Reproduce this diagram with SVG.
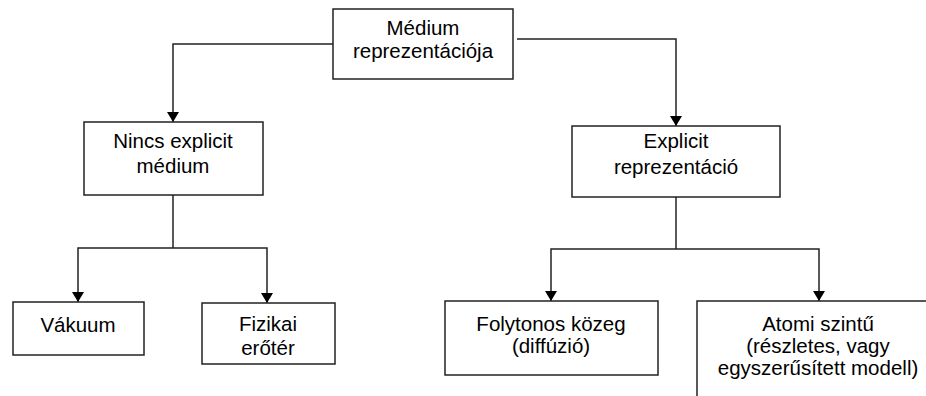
<svg xmlns="http://www.w3.org/2000/svg" width="926" height="396" viewBox="0 0 926 396">
  <style>
    .box { fill: #ffffff; stroke: #222222; stroke-width: 1.5; }
    .lbl { font-family: "Liberation Sans", Arial, sans-serif; font-size: 20.5px; fill: #000000; text-anchor: middle; }
    .wire { fill: none; stroke: #222222; stroke-width: 1.5; }
  </style>
  <defs>
    <marker id="arrow" viewBox="0 0 10 12" refX="10" refY="6" markerWidth="10" markerHeight="12" markerUnits="userSpaceOnUse" orient="auto">
      <path d="M0,0 L10,6 L0,12 Z" fill="#000000"/>
    </marker>
  </defs>
  <rect width="926" height="396" fill="#ffffff"/>

  <g id="connectors">
    <polyline class="wire" points="333,44 173,44 173,122" marker-end="url(#arrow)"/>
    <polyline class="wire" points="517,39 676,39 676,126" marker-end="url(#arrow)"/>
    <polyline class="wire" points="173,195 173,248"/>
    <polyline class="wire" points="173,248 78,248 78,302" marker-end="url(#arrow)"/>
    <polyline class="wire" points="173,248 267,248 267,303" marker-end="url(#arrow)"/>
    <polyline class="wire" points="676,197 676,249"/>
    <polyline class="wire" points="676,249 551,249 551,301" marker-end="url(#arrow)"/>
    <polyline class="wire" points="676,249 819,249 819,301" marker-end="url(#arrow)"/>
  </g>

  <g id="medium">
    <rect class="box" x="333" y="9" width="180" height="70"/>
    <text class="lbl" x="423" y="35">Médium</text>
    <text class="lbl" x="423" y="58">reprezentációja</text>
  </g>

  <g id="no-medium">
    <rect class="box" x="84" y="122" width="179" height="73"/>
    <text class="lbl" x="173" y="148">Nincs explicit</text>
    <text class="lbl" x="173" y="173">médium</text>
  </g>

  <g id="explicit">
    <rect class="box" x="572" y="126" width="208" height="71"/>
    <text class="lbl" x="676" y="148">Explicit</text>
    <text class="lbl" x="676" y="174">reprezentáció</text>
  </g>

  <g id="vacuum">
    <rect class="box" x="13" y="302" width="131" height="53"/>
    <text class="lbl" x="78" y="332">Vákuum</text>
  </g>

  <g id="force-field">
    <rect class="box" x="202" y="303" width="133" height="61"/>
    <text class="lbl" x="268" y="331">Fizikai</text>
    <text class="lbl" x="268" y="355">erőtér</text>
  </g>

  <g id="continuum">
    <rect class="box" x="445" y="301" width="213" height="74"/>
    <text class="lbl" x="551" y="331">Folytonos közeg</text>
    <text class="lbl" x="551" y="353">(diffúzió)</text>
  </g>

  <g id="atomic">
    <rect class="box" x="697" y="301" width="260" height="120"/>
    <text class="lbl" x="818" y="331">Atomi szintű</text>
    <text class="lbl" x="818" y="353">(részletes, vagy</text>
    <text class="lbl" x="818" y="375">egyszerűsített modell)</text>
  </g>
</svg>
